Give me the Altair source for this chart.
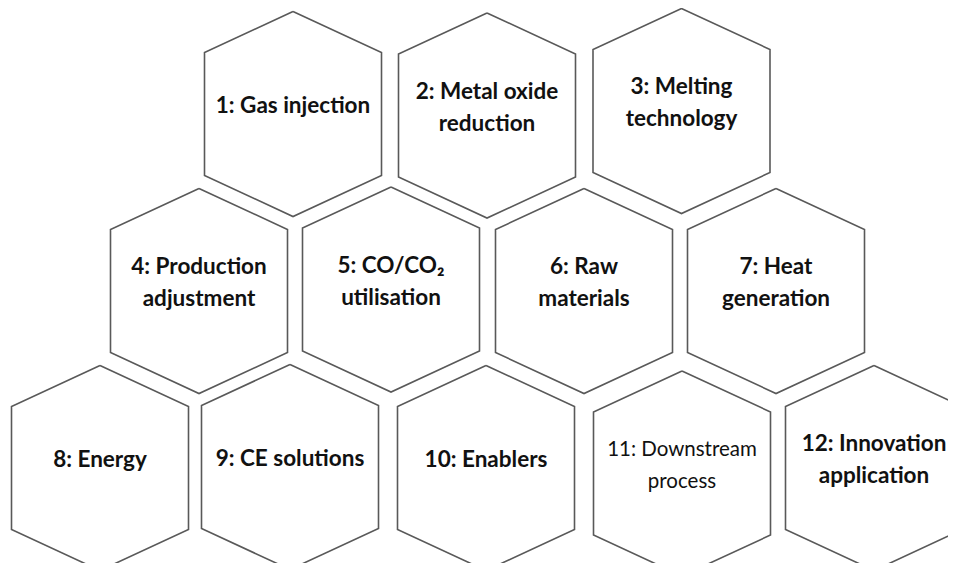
import altair as alt
import pandas as pd

# Hexagon labels (reading order) and their centres (reference pixel space)
labels = [
    "1: Gas injection",
    "2: Metal oxide\nreduction",
    "3: Melting\ntechnology",
    "4: Production\nadjustment",
    "5: CO/CO₂\nutilisation",
    "6: Raw\nmaterials",
    "7: Heat\ngeneration",
    "8: Energy",
    "9: CE solutions",
    "10: Enablers",
    "11: Downstream\nprocess",
    "12: Innovation\napplication",
]
center_x = [293, 487, 681.5, 199, 391, 584, 776, 100, 290, 486, 682, 874]
center_y = [114, 115.5, 111, 291, 289.5, 291, 291, 468, 467, 468, 473.5, 468]
bold = [True] * 10 + [False, True]

# hexagon shape (pointy top)
HW, HH, SH = 88.5, 102.5, 61.5
vert_dx = [0, HW, HW, 0, -HW, -HW, 0]
vert_dy = [-HH, -SH, SH, HH, SH, -SH, -HH]

rows = []
for i, (cx, cy) in enumerate(zip(center_x, center_y)):
    for k, (dx, dy) in enumerate(zip(vert_dx, vert_dy)):
        rows.append({"hex": i, "k": k, "x": cx + dx, "y": cy + dy})
hex_df = pd.DataFrame(rows)

lab_df = pd.DataFrame({"label": labels, "x": center_x, "y": center_y, "bold": bold})

W, H = 940, 555
xs = alt.Scale(domain=[8, 8 + W], nice=False, zero=False)
ys = alt.Scale(domain=[8, 8 + H], nice=False, zero=False, reverse=True)

hexes = alt.Chart(hex_df).mark_line(color="#595959", strokeWidth=1.6, strokeJoin="miter").encode(
    x=alt.X("x:Q", scale=xs, axis=None),
    y=alt.Y("y:Q", scale=ys, axis=None),
    detail="hex:N",
    order="k:Q",
)

LH = 32
base = alt.Chart(lab_df).transform_calculate(
    ty=f"datum.y - 8 - {LH / 2} * (length(split(datum.label, '\\n')) - 1)"
)

text_bold = base.transform_filter("datum.bold").mark_text(
    font="Lato", fontSize=22.5, fontWeight="bold", color="#111111",
    lineBreak="\n", lineHeight=LH, baseline="middle", align="center",
).encode(
    x=alt.X("x:Q", scale=xs, axis=None),
    y=alt.Y("ty:Q", scale=ys, axis=None),
    text="label:N",
)

text_norm = base.transform_filter("!datum.bold").mark_text(
    font="Lato", fontSize=20.5, fontWeight="normal", color="#111111",
    lineBreak="\n", lineHeight=LH, baseline="middle", align="center",
).encode(
    x=alt.X("x:Q", scale=xs, axis=None),
    y=alt.Y("ty:Q", scale=ys, axis=None),
    text="label:N",
)

chart = alt.layer(hexes, text_bold, text_norm).properties(
    width=W, height=H, padding=0, autosize="none", background="white"
).configure_view(stroke=None)

chart.save("out.html", embed_options={"renderer": "svg", "actions": False})
